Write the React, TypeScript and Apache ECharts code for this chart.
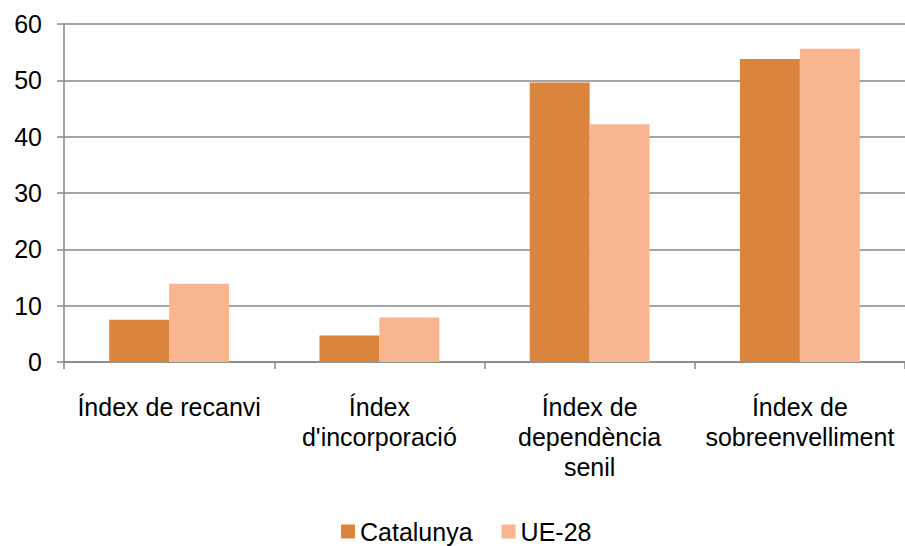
import React, { useEffect, useRef } from "react";
import * as echarts from "echarts";

const categories = [
  "Índex de recanvi",
  "Índex\nd'incorporació",
  "Índex de\ndependència\nsenil",
  "Índex de\nsobreenvelliment",
];
const catalunya = [7.5, 4.7, 49.6, 53.8];
const ue28 = [13.9, 7.9, 42.2, 55.6];
const seriesNames = ["Catalunya", "UE-28"];

const FONT = "'Liberation Sans', Arial, sans-serif";
const GRID = "#878787";

export default function App() {
  const ref = useRef<HTMLDivElement>(null);
  useEffect(() => {
    if (!ref.current) return;
    const chart = echarts.init(ref.current, undefined, { renderer: "svg" });
    chart.setOption({
      animation: false,
      backgroundColor: "#ffffff",
      textStyle: { fontFamily: FONT },
      grid: { left: 64, top: 24, width: 850, height: 338, containLabel: false },
      legend: {
        data: seriesNames,
        left: 336,
        top: 514,
        itemWidth: 14,
        itemHeight: 14,
        itemGap: 29,
        icon: "rect",
        textStyle: { fontSize: 25, color: "#000", fontFamily: FONT },
      },
      xAxis: {
        type: "category",
        data: categories,
        boundaryGap: true,
        axisLine: { show: true, lineStyle: { color: GRID, width: 1.5 } },
        axisTick: { show: true, length: 7, lineStyle: { color: GRID, width: 1.5 } },
        axisLabel: {
          interval: 0,
          margin: 30,
          fontSize: 25,
          lineHeight: 30,
          color: "#000",
          fontFamily: FONT,
        },
      },
      yAxis: {
        type: "value",
        min: 0,
        max: 60,
        interval: 10,
        axisLine: { show: true, lineStyle: { color: GRID, width: 1.5 } },
        axisTick: { show: true, length: 7, lineStyle: { color: GRID, width: 1.5 } },
        splitLine: { show: true, lineStyle: { color: GRID, width: 1.5 } },
        axisLabel: { margin: 22, fontSize: 25, color: "#000", fontFamily: FONT, padding: [6, 0, 0, 0] },
      },
      series: [
        {
          name: seriesNames[0],
          type: "bar",
          data: catalunya,
          barGap: "0%",
          barCategoryGap: "43%",
          itemStyle: { color: "#DB843D" },
        },
        {
          name: seriesNames[1],
          type: "bar",
          data: ue28,
          barGap: "0%",
          barCategoryGap: "43%",
          itemStyle: { color: "#F9B590" },
        },
      ],
    });
    return () => chart.dispose();
  }, []);
  return <div ref={ref} style={{ width: 905, height: 546, position: "absolute", left: 0, top: 0 }} />;
}
